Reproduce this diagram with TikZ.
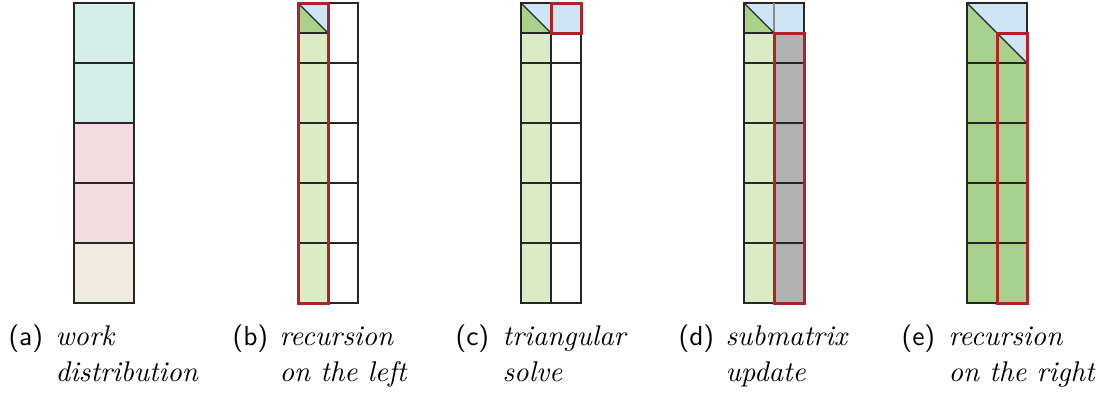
\documentclass[tikz,border=0pt]{standalone}
\usepackage{tikz}
\definecolor{cyanf}{HTML}{D5EEEA}
\definecolor{pinkf}{HTML}{F2DCDF}
\definecolor{beigef}{HTML}{EFEBDF}
\definecolor{lgreen}{HTML}{DBEBC5}
\definecolor{dgreen}{HTML}{A9D18E}
\definecolor{bluef}{HTML}{CDE5F5}
\definecolor{grayf}{HTML}{B2B2B2}
\definecolor{redb}{HTML}{B22028}
\tikzset{
  gridline/.style={draw=black!85, line width=1.3pt},
  redbox/.style={draw=redb, line width=3pt},
  sublabel/.style={inner sep=0pt, anchor=base west, font=\fontsize{10}{12}\selectfont\sffamily, scale=2.75, transform shape},
  captext/.style={inner sep=0pt, anchor=base west, font=\fontsize{10}{12}\selectfont\itshape, scale=2.85, transform shape},
}
\begin{document}
\begin{tikzpicture}[x=1pt,y=-1pt]
\useasboundingbox (0,0) rectangle (1102,394);
% (a)
\fill[cyanf] (74,3) rectangle (134,123);
\fill[pinkf] (74,123) rectangle (134,243);
\fill[beigef] (74,243) rectangle (134,303);
\draw[gridline] (74,3) rectangle (134,303);
\foreach \y in {63,123,183,243} \draw[gridline] (74,\y) -- (134,\y);
% (b)
\fill[lgreen] (298,33) rectangle (328,303);
\fill[bluef] (298,3) rectangle (328,33);
\fill[dgreen] (298,3) -- (298,33) -- (328,33) -- cycle;
\draw[gridline] (298,3) rectangle (358,303);
\draw[gridline] (328,3) -- (328,303);
\draw[gridline] (298,33) -- (328,33);
\draw[gridline] (298,3) -- (328,33);
\foreach \y in {63,123,183,243} \draw[gridline] (298,\y) -- (358,\y);
\draw[redbox] (298,3) rectangle (328,303);
% (c)
\fill[lgreen] (521,33) rectangle (551,303);
\fill[bluef] (521,3) rectangle (581,33);
\fill[dgreen] (521,3) -- (521,33) -- (551,33) -- cycle;
\draw[gridline] (521,3) rectangle (581,303);
\draw[gridline] (551,3) -- (551,303);
\draw[gridline] (521,33) -- (581,33);
\draw[gridline] (521,3) -- (551,33);
\foreach \y in {63,123,183,243} \draw[gridline] (521,\y) -- (581,\y);
\draw[redbox] (551,3) rectangle (581,33);
% (d)
\fill[lgreen] (744,33) rectangle (774,303);
\fill[grayf] (774,33) rectangle (804,303);
\fill[bluef] (744,3) rectangle (804,33);
\fill[dgreen] (744,3) -- (744,33) -- (774,33) -- cycle;
\draw[gridline] (744,3) rectangle (804,303);
\draw[gridline] (774,33) -- (774,303);
\draw[draw=black!45, line width=1.3pt] (774,3) -- (774,33);
\draw[gridline] (744,33) -- (804,33);
\draw[gridline] (744,3) -- (774,33);
\foreach \y in {63,123,183,243} \draw[gridline] (744,\y) -- (804,\y);
\draw[redbox] (774,33) rectangle (804,303);
% (e)
\fill[dgreen] (967,3) rectangle (1027,303);
\fill[bluef] (967,3) -- (1027,3) -- (1027,63) -- cycle;
\draw[gridline] (967,3) rectangle (1027,303);
\draw[gridline] (967,3) -- (1027,63);
\draw[gridline] (997,63) -- (997,303);
\foreach \y in {63,123,183,243} \draw[gridline] (967,\y) -- (1027,\y);
\draw[redbox] (997,33) rectangle (1027,303);
% captions
\node[sublabel] (la) at (8,345) {(a)};
\node[captext] (ca1) at (55,345) {work};
\node[captext] (ca2) at (55,381) {distribution};
\node[sublabel] (lb) at (232,345) {(b)};
\node[captext] (cb1) at (279,345) {recursion};
\node[captext] (cb2) at (279,381) {on the left};
\node[sublabel] (lc) at (455,345) {(c)};
\node[captext] (cc1) at (502,345) {triangular};
\node[captext] (cc2) at (502,381) {solve};
\node[sublabel] (ld) at (678,345) {(d)};
\node[captext] (cd1) at (725,345) {submatrix};
\node[captext] (cd2) at (725,381) {update};
\node[sublabel] (le) at (901,345) {(e)};
\node[captext] (ce1) at (948,345) {recursion};
\node[captext] (ce2) at (948,381) {on the right};
\end{tikzpicture}
\end{document}
